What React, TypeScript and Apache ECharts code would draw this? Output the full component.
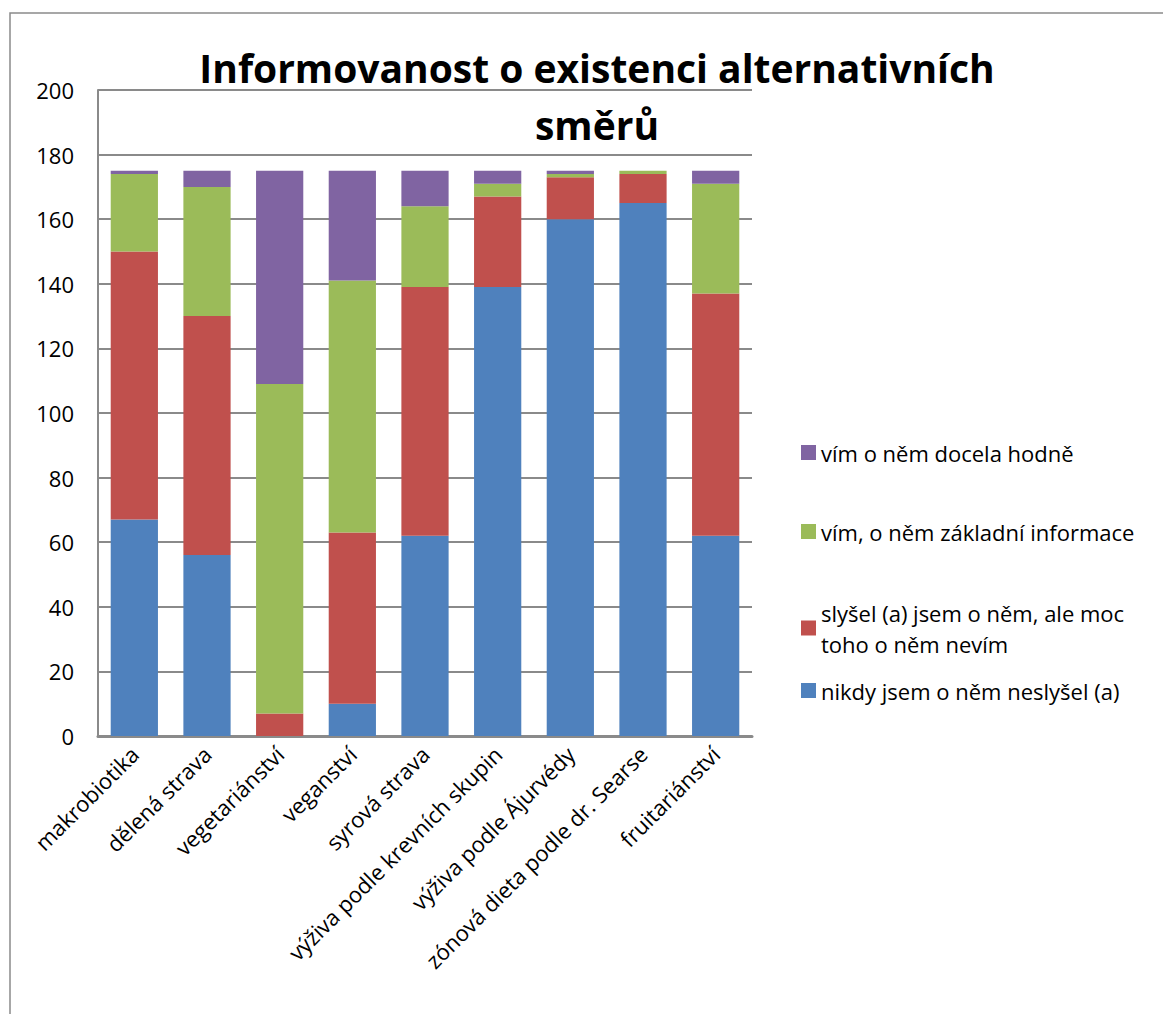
import React, { useEffect, useRef } from "react";
import * as echarts from "echarts";

const categories = [
  "makrobiotika",
  "dělená strava",
  "vegetariánství",
  "veganství",
  "syrová strava",
  "výživa podle krevních skupin",
  "výživa podle Ájurvédy",
  "zónová dieta podle dr. Searse",
  "fruitariánství",
];

const seriesNames = [
  "nikdy jsem o něm neslyšel (a)",
  "slyšel (a) jsem o něm, ale moc toho o něm nevím",
  "vím, o něm základní informace",
  "vím o něm docela hodně",
];

const neverHeard = [67, 56, 0, 10, 62, 139, 160, 165, 62];
const heardLittle = [83, 74, 7, 53, 77, 28, 13, 9, 75];
const basicInfo = [24, 40, 102, 78, 25, 4, 1, 1, 34];
const knowMuch = [1, 5, 66, 34, 11, 4, 1, 0, 4];

const colors = ["#4F81BD", "#C0504D", "#9BBB59", "#8064A2"];
const yTicks = { min: 0, max: 200, interval: 20 };

const FONT = "'Open Sans', 'Liberation Sans', sans-serif";

export default function App() {
  const ref = useRef<HTMLDivElement>(null);
  useEffect(() => {
    document.body.style.margin = "0";
    const chart = echarts.init(ref.current!, null, { renderer: "svg" });
    const values = [neverHeard, heardLittle, basicInfo, knowMuch];
    const legendTops = [432, 511, 592, 670];
    const legendOrder = [3, 2, 1, 0];
    const legends = legendOrder.map((si, k) => ({
      show: true,
      orient: "vertical",
      left: 796,
      top: legendTops[k],
      itemWidth: 15,
      itemHeight: 15,
      itemGap: 0,
      icon: "rect",
      data: [seriesNames[si]],
      formatter: (n: string) =>
        n === seriesNames[1] ? "slyšel (a) jsem o něm, ale moc\ntoho o něm nevím" : n,
      textStyle: {
        fontFamily: FONT,
        fontSize: 22,
        color: "#000",
        lineHeight: 31,
      },
    }));
    chart.setOption({
      animation: false,
      backgroundColor: "#fff",
      title: {
        text: "Informovanost o existenci alternativních\nsměrů",
        left: 592,
        top: 34,
        textAlign: "center",
        textStyle: {
          fontFamily: FONT,
          fontWeight: "bold",
          fontSize: 39,
          lineHeight: 57,
          color: "#000",
        },
      },
      legend: legends,
      grid: { left: 98, right: 411, top: 90, bottom: 278, containLabel: false },
      graphic: [
        {
          type: "rect",
          shape: { x: 10, y: 13, width: 1200, height: 1100 },
          style: { fill: "none", stroke: "#8a8a8a", lineWidth: 1.5 },
          silent: true,
          z: -1,
        },
      ],
      xAxis: {
        type: "category",
        data: categories,
        axisLine: { lineStyle: { color: "#8a8a8a", width: 3 } },
        axisTick: { show: false },
        axisLabel: {
          rotate: 45,
          interval: 0,
          fontFamily: FONT,
          fontSize: 22,
          color: "#000",
          margin: 14,
        },
      },
      yAxis: {
        type: "value",
        min: yTicks.min,
        max: yTicks.max,
        interval: yTicks.interval,
        axisLine: { show: true, lineStyle: { color: "#8a8a8a", width: 2 } },
        axisTick: { show: false },
        splitLine: { lineStyle: { color: "#8a8a8a", width: 2 } },
        axisLabel: { fontFamily: FONT, fontSize: 22, color: "#000", margin: 24 },
      },
      series: values.map((v, i) => ({
        name: seriesNames[i],
        type: "bar",
        stack: "total",
        data: v,
        barWidth: "65%",
        itemStyle: { color: colors[i] },
      })),
    });
    return () => chart.dispose();
  }, []);
  return <div ref={ref} style={{ width: 1163, height: 1014 }} />;
}
